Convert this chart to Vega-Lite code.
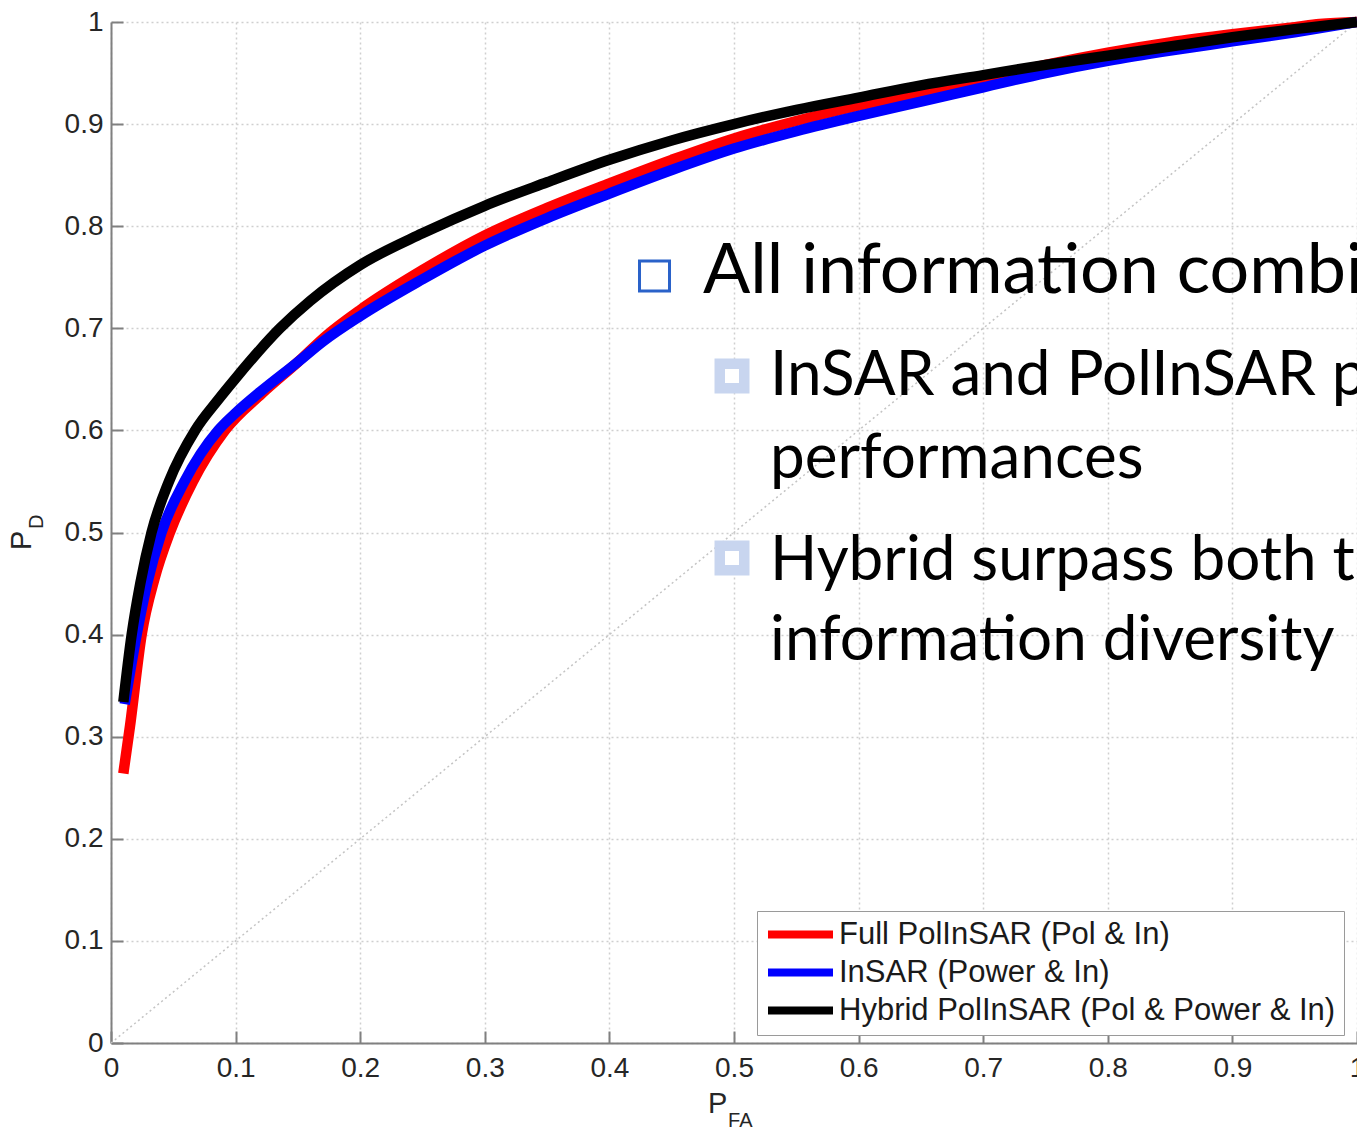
{
  "$schema": "https://vega.github.io/schema/vega-lite/v6.json",
  "width": 1246,
  "height": 1021,
  "autosize": {"type": "none"},
  "padding": {"left": 111, "top": 22, "right": 0, "bottom": 88},
  "background": "white",
  "view": {"stroke": null},
  "datasets": {
    "roc": [
      {"series": "Full PolInSAR (Pol & In)", "pfa": 0.0099, "pd": 0.264},
      {"series": "Full PolInSAR (Pol & In)", "pfa": 0.0152, "pd": 0.31},
      {"series": "Full PolInSAR (Pol & In)", "pfa": 0.0246, "pd": 0.40},
      {"series": "Full PolInSAR (Pol & In)", "pfa": 0.035, "pd": 0.455},
      {"series": "Full PolInSAR (Pol & In)", "pfa": 0.0473, "pd": 0.50},
      {"series": "Full PolInSAR (Pol & In)", "pfa": 0.0658, "pd": 0.55},
      {"series": "Full PolInSAR (Pol & In)", "pfa": 0.0915, "pd": 0.60},
      {"series": "Full PolInSAR (Pol & In)", "pfa": 0.121, "pd": 0.636},
      {"series": "Full PolInSAR (Pol & In)", "pfa": 0.15, "pd": 0.667},
      {"series": "Full PolInSAR (Pol & In)", "pfa": 0.173, "pd": 0.693},
      {"series": "Full PolInSAR (Pol & In)", "pfa": 0.2, "pd": 0.718},
      {"series": "Full PolInSAR (Pol & In)", "pfa": 0.25, "pd": 0.757},
      {"series": "Full PolInSAR (Pol & In)", "pfa": 0.3, "pd": 0.791},
      {"series": "Full PolInSAR (Pol & In)", "pfa": 0.35, "pd": 0.818},
      {"series": "Full PolInSAR (Pol & In)", "pfa": 0.4, "pd": 0.842},
      {"series": "Full PolInSAR (Pol & In)", "pfa": 0.45, "pd": 0.865},
      {"series": "Full PolInSAR (Pol & In)", "pfa": 0.5, "pd": 0.886},
      {"series": "Full PolInSAR (Pol & In)", "pfa": 0.55, "pd": 0.903},
      {"series": "Full PolInSAR (Pol & In)", "pfa": 0.6, "pd": 0.918},
      {"series": "Full PolInSAR (Pol & In)", "pfa": 0.65, "pd": 0.931},
      {"series": "Full PolInSAR (Pol & In)", "pfa": 0.7, "pd": 0.944},
      {"series": "Full PolInSAR (Pol & In)", "pfa": 0.75, "pd": 0.958},
      {"series": "Full PolInSAR (Pol & In)", "pfa": 0.8, "pd": 0.970},
      {"series": "Full PolInSAR (Pol & In)", "pfa": 0.85, "pd": 0.980},
      {"series": "Full PolInSAR (Pol & In)", "pfa": 0.9, "pd": 0.988},
      {"series": "Full PolInSAR (Pol & In)", "pfa": 0.95, "pd": 0.995},
      {"series": "Full PolInSAR (Pol & In)", "pfa": 0.97, "pd": 0.998},
      {"series": "Full PolInSAR (Pol & In)", "pfa": 1.0, "pd": 1.0},
      {"series": "InSAR (Power & In)", "pfa": 0.011, "pd": 0.332},
      {"series": "InSAR (Power & In)", "pfa": 0.0206, "pd": 0.40},
      {"series": "InSAR (Power & In)", "pfa": 0.029, "pd": 0.45},
      {"series": "InSAR (Power & In)", "pfa": 0.0405, "pd": 0.50},
      {"series": "InSAR (Power & In)", "pfa": 0.059, "pd": 0.55},
      {"series": "InSAR (Power & In)", "pfa": 0.086, "pd": 0.60},
      {"series": "InSAR (Power & In)", "pfa": 0.1, "pd": 0.617},
      {"series": "InSAR (Power & In)", "pfa": 0.12, "pd": 0.638},
      {"series": "InSAR (Power & In)", "pfa": 0.15, "pd": 0.667},
      {"series": "InSAR (Power & In)", "pfa": 0.17, "pd": 0.687},
      {"series": "InSAR (Power & In)", "pfa": 0.2, "pd": 0.712},
      {"series": "InSAR (Power & In)", "pfa": 0.25, "pd": 0.748},
      {"series": "InSAR (Power & In)", "pfa": 0.3, "pd": 0.781},
      {"series": "InSAR (Power & In)", "pfa": 0.35, "pd": 0.808},
      {"series": "InSAR (Power & In)", "pfa": 0.4, "pd": 0.832},
      {"series": "InSAR (Power & In)", "pfa": 0.45, "pd": 0.855},
      {"series": "InSAR (Power & In)", "pfa": 0.5, "pd": 0.876},
      {"series": "InSAR (Power & In)", "pfa": 0.55, "pd": 0.893},
      {"series": "InSAR (Power & In)", "pfa": 0.6, "pd": 0.908},
      {"series": "InSAR (Power & In)", "pfa": 0.65, "pd": 0.922},
      {"series": "InSAR (Power & In)", "pfa": 0.7, "pd": 0.936},
      {"series": "InSAR (Power & In)", "pfa": 0.75, "pd": 0.950},
      {"series": "InSAR (Power & In)", "pfa": 0.8, "pd": 0.962},
      {"series": "InSAR (Power & In)", "pfa": 0.85, "pd": 0.972},
      {"series": "InSAR (Power & In)", "pfa": 0.9, "pd": 0.981},
      {"series": "InSAR (Power & In)", "pfa": 0.95, "pd": 0.990},
      {"series": "InSAR (Power & In)", "pfa": 1.0, "pd": 1.0},
      {"series": "Hybrid PolInSAR (Pol & Power & In)", "pfa": 0.0099, "pd": 0.334},
      {"series": "Hybrid PolInSAR (Pol & Power & In)", "pfa": 0.0166, "pd": 0.40},
      {"series": "Hybrid PolInSAR (Pol & Power & In)", "pfa": 0.0235, "pd": 0.45},
      {"series": "Hybrid PolInSAR (Pol & Power & In)", "pfa": 0.0325, "pd": 0.50},
      {"series": "Hybrid PolInSAR (Pol & Power & In)", "pfa": 0.0465, "pd": 0.55},
      {"series": "Hybrid PolInSAR (Pol & Power & In)", "pfa": 0.0675, "pd": 0.60},
      {"series": "Hybrid PolInSAR (Pol & Power & In)", "pfa": 0.086, "pd": 0.630},
      {"series": "Hybrid PolInSAR (Pol & Power & In)", "pfa": 0.1, "pd": 0.651},
      {"series": "Hybrid PolInSAR (Pol & Power & In)", "pfa": 0.1356, "pd": 0.70},
      {"series": "Hybrid PolInSAR (Pol & Power & In)", "pfa": 0.16, "pd": 0.727},
      {"series": "Hybrid PolInSAR (Pol & Power & In)", "pfa": 0.2, "pd": 0.762},
      {"series": "Hybrid PolInSAR (Pol & Power & In)", "pfa": 0.25, "pd": 0.793},
      {"series": "Hybrid PolInSAR (Pol & Power & In)", "pfa": 0.3, "pd": 0.82},
      {"series": "Hybrid PolInSAR (Pol & Power & In)", "pfa": 0.35, "pd": 0.843},
      {"series": "Hybrid PolInSAR (Pol & Power & In)", "pfa": 0.4, "pd": 0.865},
      {"series": "Hybrid PolInSAR (Pol & Power & In)", "pfa": 0.45, "pd": 0.884},
      {"series": "Hybrid PolInSAR (Pol & Power & In)", "pfa": 0.5, "pd": 0.900},
      {"series": "Hybrid PolInSAR (Pol & Power & In)", "pfa": 0.55, "pd": 0.914},
      {"series": "Hybrid PolInSAR (Pol & Power & In)", "pfa": 0.6, "pd": 0.926},
      {"series": "Hybrid PolInSAR (Pol & Power & In)", "pfa": 0.65, "pd": 0.938},
      {"series": "Hybrid PolInSAR (Pol & Power & In)", "pfa": 0.7, "pd": 0.948},
      {"series": "Hybrid PolInSAR (Pol & Power & In)", "pfa": 0.75, "pd": 0.958},
      {"series": "Hybrid PolInSAR (Pol & Power & In)", "pfa": 0.8, "pd": 0.967},
      {"series": "Hybrid PolInSAR (Pol & Power & In)", "pfa": 0.85, "pd": 0.976},
      {"series": "Hybrid PolInSAR (Pol & Power & In)", "pfa": 0.9, "pd": 0.985},
      {"series": "Hybrid PolInSAR (Pol & Power & In)", "pfa": 0.95, "pd": 0.993},
      {"series": "Hybrid PolInSAR (Pol & Power & In)", "pfa": 1.0, "pd": 1.0}
    ],
    "chance": [
      {"pfa": 0, "pd": 0},
      {"pfa": 1, "pd": 1}
    ],
    "notes": [
      {"level": "main", "text": "All information combi", "pfa": 0.4751, "pd": 0.7346},
      {"level": "sub", "text": "InSAR and PolInSAR p", "pfa": 0.5289, "pd": 0.6347},
      {"level": "sub", "text": "performances", "pfa": 0.5289, "pd": 0.5534},
      {"level": "sub", "text": "Hybrid surpass both t", "pfa": 0.5289, "pd": 0.4535},
      {"level": "sub", "text": "information diversity", "pfa": 0.5289, "pd": 0.3751}
    ],
    "bullets": [
      {"level": "main", "pfa": 0.4362, "pd": 0.7512},
      {"level": "sub", "pfa": 0.4984, "pd": 0.6533},
      {"level": "sub", "pfa": 0.4984, "pd": 0.4750}
    ],
    "titles": [
      {"part": "xmain", "text": "P", "pfa": 0.4791, "pd": -0.0686},
      {"part": "xsub", "text": "FA", "pfa": 0.4952, "pd": -0.0823},
      {"part": "ymain", "text": "P", "pfa": -0.0642, "pd": 0.4829},
      {"part": "ysub", "text": "D", "pfa": -0.0546, "pd": 0.5034}
    ]
  },
  "encoding": {
    "x": {
      "field": "pfa", "type": "quantitative",
      "scale": {"domain": [0, 1], "nice": false, "zero": false},
      "axis": {
        "title": null,
        "values": [0, 0.1, 0.2, 0.3, 0.4, 0.5, 0.6, 0.7, 0.8, 0.9, 1],
        "format": "~g",
        "labelFlush": false, "labelOverlap": false, "labelBound": false,
        "labelPadding": 23
      }
    },
    "y": {
      "field": "pd", "type": "quantitative",
      "scale": {"domain": [0, 1], "nice": false, "zero": false},
      "axis": {
        "title": null,
        "values": [0, 0.1, 0.2, 0.3, 0.4, 0.5, 0.6, 0.7, 0.8, 0.9, 1],
        "format": "~g",
        "labelFlush": false, "labelOverlap": false, "labelBound": false,
        "labelPadding": 20
      }
    }
  },
  "layer": [
    {
      "data": {"name": "chance"},
      "mark": {"type": "line", "color": "#c4c4c4", "strokeWidth": 1.5, "strokeDash": [2, 3]},
      "encoding": {}
    },
    {
      "data": {"name": "roc"},
      "mark": {"type": "line", "strokeWidth": 10.5, "strokeCap": "butt", "strokeJoin": "round", "interpolate": "monotone", "clip": false},
      "encoding": {
        "color": {
          "field": "series", "type": "nominal",
          "scale": {
            "domain": ["Full PolInSAR (Pol & In)", "InSAR (Power & In)", "Hybrid PolInSAR (Pol & Power & In)"],
            "range": ["#ff0000", "#0000ff", "#000000"]
          },
          "legend": {
            "title": null,
            "orient": "none",
            "legendX": 646,
            "legendY": 889,
            "direction": "vertical",
            "symbolType": "M-3.25,0H3.25",
            "symbolSize": 400,
            "symbolStrokeWidth": 8,
            "symbolOffset": 20,
            "labelOffset": 23,
            "labelFont": "Liberation Sans",
            "labelFontSize": 31,
            "labelColor": "#1a1a1a",
            "labelLimit": 0,
            "rowPadding": 5,
            "padding": 8,
            "strokeColor": "#9a9a9a",
            "fillColor": "white"
          }
        },
        "order": {"value": 0}
      }
    },
    {
      "data": {"name": "bullets"},
      "transform": [{"filter": "datum.level === 'main'"}],
      "mark": {"type": "point", "shape": "square", "size": 900, "filled": false, "stroke": "#2a62c9", "strokeWidth": 3, "opacity": 1}
    },
    {
      "data": {"name": "bullets"},
      "transform": [{"filter": "datum.level === 'sub'"}],
      "mark": {"type": "point", "shape": "square", "size": 600, "filled": true, "fill": "white", "stroke": "#c8d5ef", "strokeWidth": 10.5, "opacity": 1}
    },
    {
      "data": {"name": "notes"},
      "transform": [{"filter": "datum.level === 'main'"}],
      "mark": {"type": "text", "align": "left", "baseline": "alphabetic", "font": "Lato", "fontSize": 70, "color": "#000000"},
      "encoding": {"text": {"field": "text"}}
    },
    {
      "data": {"name": "notes"},
      "transform": [{"filter": "datum.level === 'sub'"}],
      "mark": {"type": "text", "align": "left", "baseline": "alphabetic", "font": "Lato", "fontSize": 62, "color": "#000000"},
      "encoding": {"text": {"field": "text"}}
    },
    {
      "data": {"name": "titles"},
      "transform": [{"filter": "datum.part === 'xmain'"}],
      "mark": {"type": "text", "align": "left", "baseline": "alphabetic", "font": "Liberation Sans", "fontSize": 29, "color": "#262626", "clip": false},
      "encoding": {"text": {"field": "text"}}
    },
    {
      "data": {"name": "titles"},
      "transform": [{"filter": "datum.part === 'xsub'"}],
      "mark": {"type": "text", "align": "left", "baseline": "alphabetic", "font": "Liberation Sans", "fontSize": 20, "color": "#262626", "clip": false},
      "encoding": {"text": {"field": "text"}}
    },
    {
      "data": {"name": "titles"},
      "transform": [{"filter": "datum.part === 'ymain'"}],
      "mark": {"type": "text", "align": "left", "baseline": "alphabetic", "angle": 270, "font": "Liberation Sans", "fontSize": 29, "color": "#262626", "clip": false},
      "encoding": {"text": {"field": "text"}}
    },
    {
      "data": {"name": "titles"},
      "transform": [{"filter": "datum.part === 'ysub'"}],
      "mark": {"type": "text", "align": "left", "baseline": "alphabetic", "angle": 270, "font": "Liberation Sans", "fontSize": 20, "color": "#262626", "clip": false},
      "encoding": {"text": {"field": "text"}}
    }
  ],
  "config": {
    "axis": {
      "labelFont": "Liberation Sans",
      "labelFontSize": 28,
      "labelColor": "#262626",
      "domainColor": "#808080",
      "domainWidth": 2,
      "tickColor": "#808080",
      "tickWidth": 2,
      "tickSize": -12,
      "grid": true,
      "gridColor": "#cfcfcf",
      "gridDash": [2, 3],
      "gridWidth": 1.5
    }
  }
}
